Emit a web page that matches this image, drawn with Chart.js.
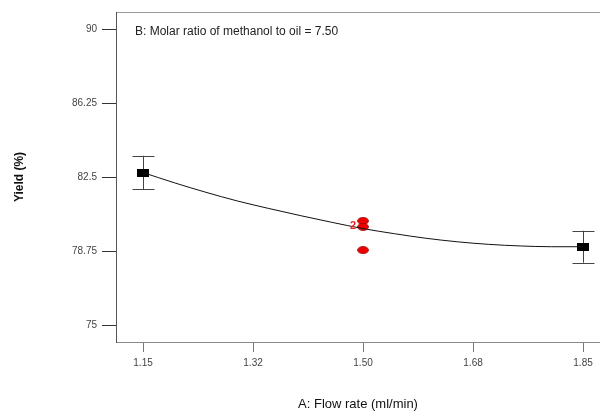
<!DOCTYPE html>
<html>
<head>
<meta charset="utf-8">
<script src="https://cdn.jsdelivr.net/npm/chart.js@4.4.1/dist/chart.umd.min.js"></script>
<style>
  body { margin: 0; background: #fff; }
  canvas { display: block; }
</style>
</head>
<body>
<canvas id="yieldChart" width="600" height="412"></canvas>
<script>
// axis ticks
var flowTicks = [1.15, 1.325, 1.5, 1.675, 1.85];
var flowTickLabels = ['1.15', '1.32', '1.50', '1.68', '1.85'];
var yieldTicks = [75, 78.75, 82.5, 86.25, 90];
var yieldTickLabels = ['75', '78.75', '82.5', '86.25', '90'];

// predicted curve
var curveX = [1.15, 1.20, 1.25, 1.30, 1.35, 1.40, 1.45, 1.50, 1.55, 1.60, 1.65, 1.70, 1.75, 1.80, 1.85];
var curveY = [82.74, 82.22, 81.74, 81.30, 80.92, 80.56, 80.22, 79.90, 79.64, 79.41, 79.23, 79.10, 79.02, 78.98, 78.98];

// end points with LSD bars
var endX = [1.15, 1.85];
var endY = [82.74, 78.98];
var endLow = [81.89, 78.17];
var endHigh = [83.59, 79.79];

// design points (red)
var runX = [1.5, 1.5, 1.5];
var runY = [80.29, 79.99, 78.81];
var runLabel = ['', '2', ''];

var subTitle = 'B: Molar ratio of methanol to oil = 7.50';
var FONT = '"Liberation Sans", Arial, sans-serif';

function makeSquare() {
    var c = document.createElement('canvas');
    c.width = 12; c.height = 8;
    var g = c.getContext('2d');
    g.fillStyle = '#000';
    g.fillRect(0, 0, 12, 8);
    return c;
}
function makeEllipse() {
    var c = document.createElement('canvas');
    c.width = 12; c.height = 8;
    var g = c.getContext('2d');
    g.beginPath();
    g.ellipse(6, 4, 5.5, 3.5, 0, 0, Math.PI * 2);
    g.fillStyle = '#ee0000';
    g.fill();
    g.strokeStyle = '#990000';
    g.lineWidth = 0.8;
    g.stroke();
    return c;
}

var extras = {
    id: 'extras',
    beforeDraw: function(chart) {
        var ctx = chart.ctx, a = chart.chartArea;
        ctx.save();
        ctx.strokeStyle = '#999';
        ctx.lineWidth = 1;
        ctx.beginPath();
        ctx.moveTo(a.left, a.top + 0.5);
        ctx.lineTo(a.right, a.top + 0.5);
        ctx.stroke();
        ctx.restore();
    },
    beforeDatasetsDraw: function(chart) {
        var ctx = chart.ctx;
        var xs = chart.scales.x, ys = chart.scales.y;
        ctx.save();
        ctx.strokeStyle = '#444';
        ctx.lineWidth = 1;
        for (var i = 0; i < endX.length; i++) {
            var px = Math.round(xs.getPixelForValue(endX[i])) + 0.5;
            var lo = ys.getPixelForValue(endLow[i]);
            var hi = ys.getPixelForValue(endHigh[i]);
            ctx.beginPath();
            ctx.moveTo(px, lo); ctx.lineTo(px, hi);
            ctx.moveTo(px - 11, Math.round(lo) + 0.5); ctx.lineTo(px + 11, Math.round(lo) + 0.5);
            ctx.moveTo(px - 11, Math.round(hi) + 0.5); ctx.lineTo(px + 11, Math.round(hi) + 0.5);
            ctx.stroke();
        }
        ctx.restore();
    },
    afterDraw: function(chart) {
        var ctx = chart.ctx, a = chart.chartArea;
        var xs = chart.scales.x, ys = chart.scales.y;
        ctx.save();
        ctx.fillStyle = '#222';
        ctx.font = '12px ' + FONT;
        ctx.textBaseline = 'middle';
        ctx.fillText(subTitle, a.left + 19, a.top + 20);
        ctx.fillStyle = '#ee2222';
        ctx.font = 'bold 11px ' + FONT;
        ctx.textAlign = 'right';
        for (var i = 0; i < runX.length; i++) {
            if (!runLabel[i]) continue;
            ctx.fillText(runLabel[i], xs.getPixelForValue(runX[i]) - 7, ys.getPixelForValue(runY[i]) - 1);
        }
        ctx.restore();
    }
};

var chart = new Chart(document.getElementById('yieldChart'), {
    type: 'scatter',
    data: {
        datasets: [
            {
                type: 'line',
                data: curveX.map(function(x, i) { return {x: x, y: curveY[i]}; }),
                borderColor: '#111',
                borderWidth: 1,
                pointRadius: 0,
                cubicInterpolationMode: 'monotone',
                fill: false
            },
            {
                data: endX.map(function(x, i) { return {x: x, y: endY[i]}; }),
                pointStyle: makeSquare(),
                pointRadius: 6
            },
            {
                data: runX.map(function(x, i) { return {x: x, y: runY[i]}; }),
                pointStyle: makeEllipse(),
                pointRadius: 6
            }
        ]
    },
    options: {
        responsive: false,
        animation: false,
        devicePixelRatio: 1,
        layout: { autoPadding: false, padding: { top: 12, left: 0, right: 0, bottom: 0 } },
        plugins: { legend: { display: false }, tooltip: { enabled: false } },
        scales: {
            x: {
                type: 'linear',
                min: 1.107,
                max: 1.877,
                afterBuildTicks: function(scale) {
                    scale.ticks = flowTicks.map(function(v) { return {value: v}; });
                },
                afterFit: function(scale) {
                    scale.height = 70;
                    scale.paddingLeft = 0;
                    scale.paddingRight = 0;
                },
                ticks: {
                    autoSkip: false,
                    maxRotation: 0,
                    padding: 5,
                    color: '#444',
                    font: { family: FONT, size: 10 },
                    callback: function(v, i) { return flowTickLabels[i]; }
                },
                grid: { drawOnChartArea: false, tickLength: 10, color: '#777' },
                border: { color: '#888' },
                title: {
                    display: true,
                    text: 'A: Flow rate (ml/min)',
                    color: '#111',
                    font: { family: FONT, size: 13 },
                    padding: { top: 0, bottom: 0 }
                }
            },
            y: {
                type: 'linear',
                min: 74.15,
                max: 90.88,
                afterBuildTicks: function(scale) {
                    scale.ticks = yieldTicks.map(function(v) { return {value: v}; });
                },
                afterFit: function(scale) {
                    scale.width = 116;
                    scale.paddingTop = 0;
                    scale.paddingBottom = 0;
                },
                ticks: {
                    autoSkip: false,
                    padding: 5,
                    color: '#444',
                    font: { family: FONT, size: 10 },
                    callback: function(v, i) { return yieldTickLabels[i]; }
                },
                grid: { drawOnChartArea: false, tickLength: 14, color: '#333' },
                border: { color: '#555' },
                title: {
                    display: true,
                    text: 'Yield (%)',
                    color: '#111',
                    font: { family: FONT, size: 12, weight: 'bold' },
                    padding: { top: 12, bottom: 0 }
                }
            }
        }
    },
    plugins: [extras]
});
</script>
</body>
</html>
